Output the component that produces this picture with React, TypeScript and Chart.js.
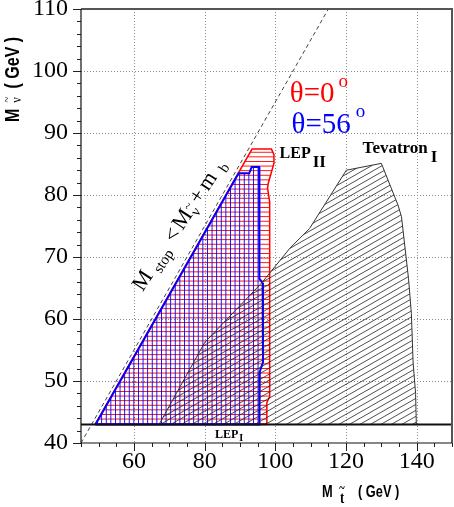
import React, { useEffect, useRef } from 'react';
import { Chart, registerables } from 'chart.js';

Chart.register(...registerables);

// ---- axes ----
const xMin = 45;
const xMax = 150;
const yMin = 40;
const yMax = 110;
const xTickLabels = [60, 80, 100, 120, 140];
const yTickLabels = [40, 50, 60, 70, 80, 90, 100, 110];
const xGridValues = [60, 80, 100, 120, 140];
const yGridValues = [50, 60, 70, 80, 90, 100];

// ---- kinematic limit  M_stop < M_snu + m_b ----
const kinX = [45, 115];
const kinY = [40, 110];

// ---- LEP I limit ----
const lepIX = [45, 150];
const lepIY = [43, 43];

// ---- theta = 0 (red) excluded region ----
const redX = [49, 93.4, 98.9, 99.6, 99.6, 98.0, 97.8, 98.4, 98.4, 97.6, 97.6, 49];
const redY = [43, 87.4, 87.4, 86.5, 85.1, 81.9, 81.1, 78.9, 47.5, 46.5, 43, 43];

// ---- theta = 56 (blue) excluded region ----
const blueX = [49.1, 89.6, 92.6, 93.3, 95.4, 95.5, 96.4, 96.5, 95.6, 95.5, 49.1];
const blueY = [43, 83.5, 83.5, 84.5, 84.5, 66.5, 65.8, 53.0, 51.5, 43, 43];

// ---- Tevatron I excluded region ----
const tevX = [67.1, 80.0, 96.1, 104.1, 109.7, 120.1, 130.0, 134.7, 135.7, 137.7, 138.5, 139.0, 139.7, 139.9, 67.1];
const tevY = [43, 56.2, 65.8, 71.4, 74.6, 84.0, 85.1, 78.4, 76.5, 66.5, 60.9, 52.9, 48, 43, 43];

const SERIF = '"Liberation Serif", "Times New Roman", serif';
const SANS = '"Liberation Sans", Arial, sans-serif';

function pts(xs: number[], ys: number[]) {
  return xs.map((x, i) => ({ x, y: ys[i] }));
}

function hatch(kind: 'h' | 'v' | 'd', color: string): CanvasPattern | string {
  const c = document.createElement('canvas');
  const g = c.getContext('2d');
  if (!g) return color;
  if (kind === 'h') {
    c.width = 8; c.height = 23;
    g.fillStyle = color;
    for (let k = 0; k < 5; k++) g.fillRect(0, k * 4.6, 8, 0.9);
  } else if (kind === 'v') {
    c.width = 23; c.height = 8;
    g.fillStyle = color;
    for (let k = 0; k < 5; k++) g.fillRect(k * 4.6, 0, 0.9, 8);
  } else {
    c.width = 21; c.height = 6;
    g.strokeStyle = color;
    g.lineWidth = 0.8;
    g.beginPath();
    for (let k = -4; k <= 5; k++) {
      g.moveTo(-7, k * 6 + 4);
      g.lineTo(28, k * 6 - 16);
    }
    g.stroke();
  }
  return g.createPattern(c, 'repeat') || color;
}

type Piece = { t: string; font: string; at: number; dy: number };

const gridPlugin = {
  id: 'dottedGrid',
  beforeDatasetsDraw(chart: any) {
    const { ctx, chartArea: a, scales } = chart;
    ctx.save();
    ctx.strokeStyle = '#8a8a8a';
    ctx.lineWidth = 1;
    ctx.setLineDash([1, 2]);
    ctx.beginPath();
    xGridValues.forEach((v) => {
      const px = Math.round(scales.x.getPixelForValue(v)) + 0.5;
      ctx.moveTo(px, a.top);
      ctx.lineTo(px, a.bottom);
    });
    yGridValues.forEach((v) => {
      const py = Math.round(scales.y.getPixelForValue(v)) + 0.5;
      ctx.moveTo(a.left, py);
      ctx.lineTo(a.right, py);
    });
    ctx.stroke();
    ctx.restore();
  },
};

const framePlugin = {
  id: 'frameAndTicks',
  afterDatasetsDraw(chart: any) {
    const { ctx, chartArea: a, scales } = chart;
    const x = scales.x;
    const y = scales.y;
    ctx.save();
    ctx.strokeStyle = '#222';
    ctx.lineWidth = 1;
    ctx.beginPath();
    x.ticks.forEach((t: any) => {
      const px = Math.round(x.getPixelForValue(t.value)) + 0.5;
      const len = xTickLabels.includes(t.value) ? 8 : 4;
      ctx.moveTo(px, a.bottom);
      ctx.lineTo(px, a.bottom + len);
    });
    y.ticks.forEach((t: any) => {
      const py = Math.round(y.getPixelForValue(t.value)) + 0.5;
      const len = yTickLabels.includes(t.value) ? 8 : 4;
      ctx.moveTo(a.left, py);
      ctx.lineTo(a.left - len, py);
    });
    ctx.stroke();
    ctx.strokeStyle = '#555';
    ctx.lineWidth = 2;
    ctx.beginPath();
    ctx.moveTo(a.left, a.top);
    ctx.lineTo(a.right, a.top);
    ctx.lineTo(a.right, a.bottom);
    ctx.stroke();
    ctx.strokeStyle = '#111';
    ctx.lineWidth = 1.2;
    ctx.beginPath();
    ctx.moveTo(a.left, a.top);
    ctx.lineTo(a.left, a.bottom);
    ctx.lineTo(a.right, a.bottom);
    ctx.stroke();
    ctx.restore();
  },
};

const labelPlugin = {
  id: 'labels',
  afterDraw(chart: any) {
    const { ctx, scales } = chart;
    const X = (v: number) => scales.x.getPixelForValue(v);
    const Y = (v: number) => scales.y.getPixelForValue(v);
    ctx.save();
    ctx.textBaseline = 'alphabetic';
    ctx.textAlign = 'left';

    // theta labels
    ctx.fillStyle = '#ff0000';
    ctx.font = `29px ${SERIF}`;
    let x0 = X(104.1), y0 = Y(95.0);
    ctx.fillText('θ=0', x0, y0);
    let w = ctx.measureText('θ=0').width;
    ctx.font = `19px ${SERIF}`;
    ctx.fillText('o', x0 + w + 4, y0 - 15);

    ctx.fillStyle = '#0000ff';
    ctx.font = `29px ${SERIF}`;
    x0 = X(104.6); y0 = Y(90.0);
    ctx.fillText('θ=56', x0, y0);
    w = ctx.measureText('θ=56').width;
    ctx.font = `19px ${SERIF}`;
    ctx.fillText('o', x0 + w + 5, y0 - 16);

    // LEP II
    ctx.fillStyle = '#000';
    ctx.font = `bold 16px ${SERIF}`;
    x0 = X(101.2); y0 = Y(86.0);
    ctx.fillText('LEP', x0, y0);
    w = ctx.measureText('LEP').width;
    ctx.font = `bold 17px ${SERIF}`;
    ctx.fillText('II', x0 + w + 2, y0 + 9);

    // Tevatron I
    ctx.font = `bold 17px ${SERIF}`;
    x0 = X(124.7); y0 = Y(86.8);
    ctx.fillText('Tevatron', x0, y0);
    w = ctx.measureText('Tevatron').width;
    ctx.fillText('I', x0 + w + 3, y0 + 9);

    // LEP I
    ctx.font = `bold 12px ${SERIF}`;
    x0 = X(82.9); y0 = Y(40.8);
    ctx.fillText('LEP', x0, y0);
    w = ctx.measureText('LEP').width;
    ctx.font = `bold 10px ${SERIF}`;
    ctx.fillText('I', x0 + w + 1, y0 + 3);

    // diagonal label
    const p0x = X(62.5), p0y = Y(64.3);
    const ang = -57 * Math.PI / 180;
    const pieces: Piece[] = [
      { t: 'M', font: `22px ${SERIF}`, at: 0, dy: 0 },
      { t: 'stop', font: `15px ${SERIF}`, at: 25, dy: 5 },
      { t: '<', font: `22px ${SERIF}`, at: 58, dy: 0 },
      { t: 'M', font: `22px ${SERIF}`, at: 73, dy: 0 },
      { t: 'ν', font: `15px ${SERIF}`, at: 93, dy: 5 },
      { t: '~', font: `13px ${SERIF}`, at: 93.5, dy: -5 },
      { t: '+', font: `22px ${SERIF}`, at: 104, dy: 0 },
      { t: 'm', font: `22px ${SERIF}`, at: 120, dy: 0 },
      { t: 'b', font: `15px ${SERIF}`, at: 145, dy: 5 },
    ];
    ctx.save();
    ctx.translate(p0x, p0y);
    ctx.rotate(ang);
    pieces.forEach((p) => {
      ctx.font = p.font;
      ctx.fillText(p.t, p.at, p.dy);
    });
    ctx.restore();

    // y axis title
    ctx.save();
    ctx.translate(19, 122);
    ctx.rotate(-Math.PI / 2);
    ctx.scale(0.8, 1);
    ctx.font = `bold 20px ${SANS}`;
    ctx.fillText('M', 0, 0);
    ctx.font = `15px ${SERIF}`;
    ctx.fillText('ν', 24, 2);
    ctx.font = `13px ${SERIF}`;
    ctx.fillText('~', 24.5, -8);
    ctx.font = `bold 20px ${SANS}`;
    ctx.fillText('( GeV )', 42, 0);
    ctx.restore();

    // x axis title
    ctx.save();
    ctx.translate(322, 497);
    ctx.scale(0.8, 1);
    ctx.font = `bold 16px ${SANS}`;
    ctx.fillText('M', 0, 0);
    ctx.font = `bold 16px ${SERIF}`;
    ctx.fillText('t', 22.5, 6);
    ctx.font = `bold 13px ${SERIF}`;
    ctx.fillText('~', 21.5, -5);
    ctx.font = `bold 16px ${SANS}`;
    ctx.fillText('( GeV )', 45, 0);
    ctx.restore();

    ctx.restore();
  },
};

export default function App() {
  const ref = useRef<HTMLCanvasElement>(null);

  useEffect(() => {
    const canvas = ref.current;
    if (!canvas) return;
    const tickFont = { family: SERIF, size: 24 };
    const chart = new Chart(canvas, {
      type: 'scatter',
      data: {
        datasets: [
          {
            label: 'LEP I',
            data: pts(lepIX, lepIY),
            showLine: true,
            borderColor: '#111',
            borderWidth: 2,
            pointRadius: 0,
            fill: false,
          },
          {
            label: 'Tevatron I',
            data: pts(tevX, tevY),
            showLine: true,
            borderColor: '#333',
            borderWidth: 1,
            pointRadius: 0,
            fill: 'shape',
            backgroundColor: hatch('d', '#222') as any,
          },
          {
            label: 'θ=56°',
            data: pts(blueX, blueY),
            showLine: true,
            borderColor: '#0000ff',
            borderWidth: 2,
            pointRadius: 0,
            fill: 'shape',
            backgroundColor: hatch('v', '#0000ff') as any,
          },
          {
            label: 'θ=0°',
            data: pts(redX, redY),
            showLine: true,
            borderColor: '#ff0000',
            borderWidth: 1.5,
            pointRadius: 0,
            fill: 'shape',
            backgroundColor: hatch('h', '#ff0000') as any,
          },
          {
            label: 'kinematic limit',
            data: pts(kinX, kinY),
            showLine: true,
            borderColor: '#444',
            borderWidth: 1,
            borderDash: [4, 3],
            pointRadius: 0,
            fill: false,
          },
        ],
      },
      options: {
        responsive: false,
        animation: false,
        layout: { padding: { top: 9, right: 2, left: 0, bottom: 0 } },
        plugins: { legend: { display: false }, tooltip: { enabled: false } },
        elements: { line: { tension: 0 } },
        scales: {
          x: {
            type: 'linear',
            min: xMin,
            max: xMax,
            afterFit: (s: any) => {
              s.height = 64;
              s.paddingLeft = 0;
              s.paddingRight = 0;
            },
            ticks: {
              stepSize: 5,
              autoSkip: false,
              maxRotation: 0,
              padding: 4,
              color: '#000',
              font: tickFont,
              callback: (v: any) => (xTickLabels.includes(Number(v)) ? String(v) : ''),
            },
            grid: { display: false, drawTicks: false },
            border: { display: false },
          },
          y: {
            type: 'linear',
            min: yMin,
            max: yMax,
            afterFit: (s: any) => {
              s.width = 81;
              s.paddingTop = 0;
              s.paddingBottom = 0;
            },
            ticks: {
              stepSize: 2,
              autoSkip: false,
              padding: 13,
              color: '#000',
              font: tickFont,
              callback: (v: any) => (yTickLabels.includes(Number(v)) ? String(v) : ''),
            },
            grid: { display: false, drawTicks: false },
            border: { display: false },
          },
        },
      } as any,
      plugins: [gridPlugin, framePlugin, labelPlugin],
    });
    return () => chart.destroy();
  }, []);

  return (
    <canvas
      ref={ref}
      width={454}
      height={507}
      style={{ position: 'absolute', left: 0, top: 0, display: 'block', background: '#fff' }}
    />
  );
}
